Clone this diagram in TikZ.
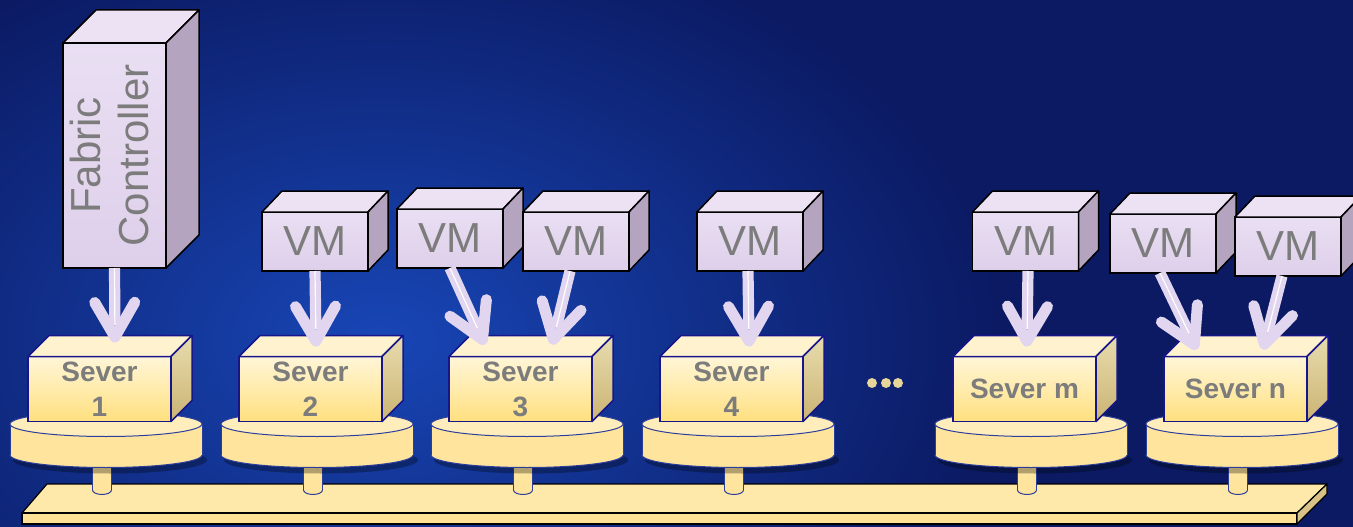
\documentclass[tikz,border=0pt]{standalone}
\usepackage{fontspec}
\usepackage{graphicx}
\setmainfont{Liberation Sans}
\usetikzlibrary{calc}
\definecolor{bgbase}{HTML}{0B1A63}
\definecolor{bgbright}{HTML}{1846B6}
\definecolor{lav}{HTML}{E2D5EF}
\definecolor{vmside}{HTML}{B5A4BF}
\definecolor{vmtop}{HTML}{ECE2F4}
\definecolor{srvedge}{HTML}{16168A}
\definecolor{srvtop}{HTML}{FFF3CF}
\definecolor{srvfronttop}{HTML}{FFF6D8}
\definecolor{srvbot}{HTML}{FFE07F}
\definecolor{srvsidetop}{HTML}{E8DCAE}
\definecolor{srvsidebot}{HTML}{CBB473}
\definecolor{vmfronttop}{HTML}{E9DFF3}
\definecolor{vmfrontbot}{HTML}{DECFEA}
\definecolor{diskside}{HTML}{FFE49E}
\definecolor{disktop}{HTML}{FFEDBC}
\definecolor{diskedge}{HTML}{2C3E9C}
\definecolor{bartop}{HTML}{FFE9AA}
\definecolor{barfront}{HTML}{FFE296}
\definecolor{barside}{HTML}{D8C286}
\definecolor{txtgray}{HTML}{7C7C7C}
\definecolor{dotc}{HTML}{E6D69A}

\newcommand\cubefaces[5]{%
  \filldraw[#4] (#1.north west) -- ([shift={(#2,-#3)}]#1.north west) -- ([shift={(#2,-#3)}]#1.north east) -- (#1.north east) -- cycle;
  \filldraw[#5] (#1.north east) -- ([shift={(#2,-#3)}]#1.north east) -- ([shift={(#2,-#3)}]#1.south east) -- (#1.south east) -- cycle;
}
\newcommand\srvunit[3]{%
  \pgfmathsetmacro\postx{#2+74}%
  \pgfmathsetmacro\diskx{#2+78}%
  \pgfmathsetmacro\srvx{#2+71.5}%
  % post
  \filldraw[fill=diskside,draw=diskedge,line width=1pt] (\postx,490) ellipse (9.5 and 4.5);
  \fill[diskside] (\postx-9.5,450) rectangle (\postx+9.5,490);
  \draw[diskedge,line width=1pt] (\postx-9.5,455) -- (\postx-9.5,490) (\postx+9.5,455) -- (\postx+9.5,490);
  % disk
  \fill[black,opacity=0.3] (\diskx+4,460) ellipse (97 and 13.5);
  \filldraw[fill=diskside,draw=diskedge,line width=1pt] (\diskx,455) ellipse (96 and 12.5);
  \fill[diskside] (\diskx-96,424) rectangle (\diskx+96,455);
  \draw[diskedge,line width=1pt] (\diskx-96,424) -- (\diskx-96,455) (\diskx+96,424) -- (\diskx+96,455);
  \filldraw[fill=disktop,draw=diskedge,line width=1pt] (\diskx,424) ellipse (96 and 12.5);
  % server box
  \node[srvbox] (#1) at (\srvx,389) {#3};
  \cubefaces{#1}{21}{21}{srvtopst}{srvsidest}%
}
\newcommand\vmunit[3]{%
  \node[vmbox] (#1) at (#2,#3) {VM};
  \cubefaces{#1}{20}{21}{vmtopst}{vmsidest}%
}
\newcommand\vmarrow[4]{%
  \coordinate (#3) at (#4);
  \draw[shaftst] ([xshift=#2]#1.south) -- ($(#3)!12pt!([xshift=#2]#1.south)$);
  \draw[headst] ($(#3)!40pt!30:([xshift=#2]#1.south)$) -- (#3) -- ($(#3)!40pt!-30:([xshift=#2]#1.south)$);
}

\begin{document}
\begin{tikzpicture}[x=1pt,y=-1pt,
  srvbox/.style={draw=srvedge,line width=1.5pt,top color=srvfronttop,bottom color=srvbot,
    minimum width=143pt,minimum height=65pt,inner sep=0pt,outer sep=0pt,
    align=center,text=txtgray,font=\fontsize{28}{35}\selectfont\bfseries},
  srvtopst/.style={fill=srvtop,draw=srvedge,line width=1.5pt,line join=round},
  srvsidest/.style={top color=srvsidetop,bottom color=srvsidebot,draw=srvedge,line width=1.5pt,line join=round},
  vmbox/.style={draw=black,line width=1.5pt,top color=vmfronttop,bottom color=vmfrontbot,
    minimum width=106pt,minimum height=59pt,inner sep=0pt,outer sep=0pt,
    text=txtgray,font=\fontsize{42}{42}\selectfont},
  vmtopst/.style={fill=vmtop,draw=black,line width=1.5pt,line join=round},
  vmsidest/.style={fill=vmside,draw=black,line width=1.5pt,line join=round},
  shaftst/.style={draw=lav,line width=5pt,double=white,double distance=1.2pt},
  headst/.style={draw=lav,line width=11pt,line cap=round,line join=round},
  dotst/.style={circle,fill=dotc,minimum size=10pt,inner sep=0pt}
]
\useasboundingbox (0,0) rectangle (1353,527);
% background
\fill[bgbase] (0,0) rectangle (1353,527);
\begin{scope}
  \clip (0,0) rectangle (1353,527);
  \shade[inner color=bgbright,outer color=bgbase] (380,340) ellipse (620 and 420);
\end{scope}
% bar
\filldraw[fill=bartop,draw=black,line width=1.2pt,line join=round] (47,484) -- (1327,484) -- (1297,513) -- (22,513) -- cycle;
\filldraw[fill=barfront,draw=black,line width=1.2pt] (22,513) rectangle (1297,524);
\filldraw[fill=barside,draw=black,line width=1.2pt,line join=round] (1297,513) -- (1327,484) -- (1327,494) -- (1297,524) -- cycle;
% servers
\srvunit{s1}{28}{Sever\\1}
\srvunit{s2}{239}{Sever\\2}
\srvunit{s3}{449}{Sever\\3}
\srvunit{s4}{660}{Sever\\4}
\srvunit{sm}{953}{Sever m}
\srvunit{sn}{1164}{Sever n}
% dots
\node[dotst] (d1) at (872,383) {};
\node[dotst] (d2) at (886,383) {};
\node[dotst] (d3) at (898,383) {};
% VMs
\vmunit{vm2}{315}{241.5}
\vmunit{vm3a}{450}{238.5}
\vmunit{vm3b}{576}{241.5}
\vmunit{vm4}{750}{241.5}
\vmunit{vmm}{1025.5}{241.5}
\vmunit{vmna}{1163}{243.5}
\vmunit{vmnb}{1288}{246.5}
% Fabric controller
\node[draw=black,line width=1.5pt,top color=vmfronttop,bottom color=vmfrontbot,
  minimum width=103pt,minimum height=225pt,inner sep=0pt,outer sep=0pt,text=txtgray]
  (fc) at (114.5,155.5) {\rotatebox{90}{\fontsize{42}{48}\selectfont\begin{tabular}{@{}c@{}}Fabric\\Controller\end{tabular}}};
\cubefaces{fc}{33}{33}{vmtopst}{vmsidest}
% arrows
\vmarrow{fc}{0pt}{tfc}{115,337}
\vmarrow{vm2}{0pt}{t2}{316,341}
\vmarrow{vm3a}{0pt}{t3a}{482.5,339.5}
\vmarrow{vm3b}{-6pt}{t3b}{553.4,339.2}
\vmarrow{vm4}{-2pt}{t4}{749,341}
\vmarrow{vmm}{2.5pt}{tm}{1027,341}
\vmarrow{vmna}{-3pt}{tna}{1194.4,344.6}
\vmarrow{vmnb}{-6pt}{tnb}{1264.5,344.2}
\end{tikzpicture}
\end{document}
